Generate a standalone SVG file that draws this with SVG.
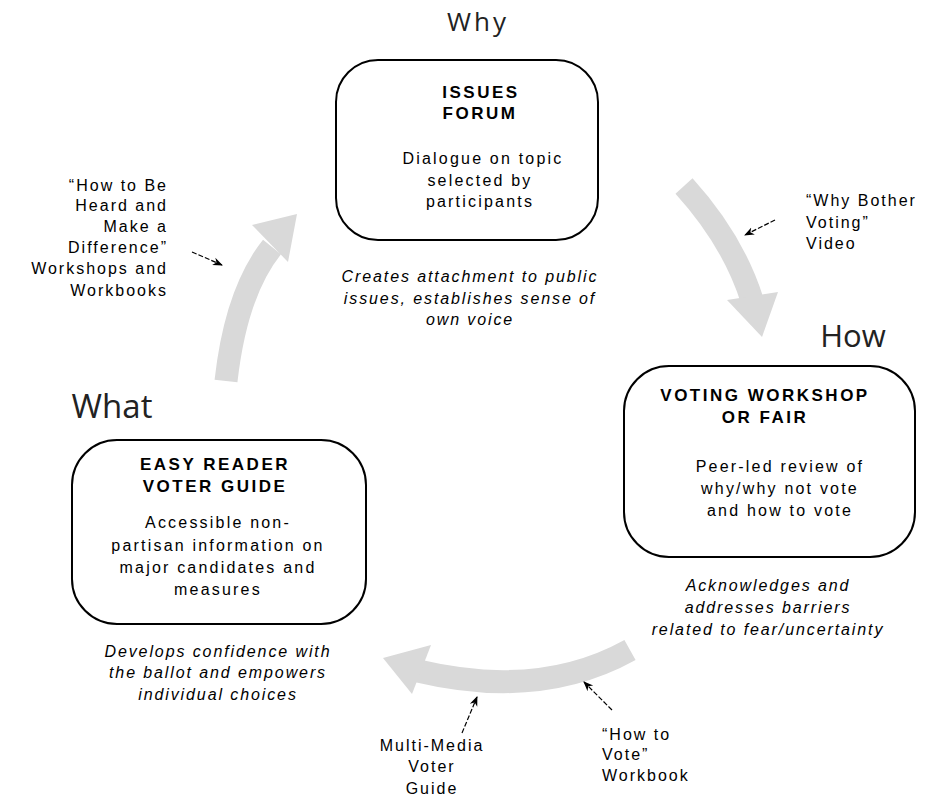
<svg xmlns="http://www.w3.org/2000/svg" width="936" height="802" viewBox="0 0 936 802">
<defs>
<marker id="ah" viewBox="0 0 10 10" refX="9" refY="5" markerWidth="10" markerHeight="10" orient="auto" markerUnits="userSpaceOnUse">
<path d="M0,1 L10,5 L0,9 L3,5 Z" fill="#000"/>
</marker>
</defs>
<style>
.box{fill:#fff;stroke:#000;stroke-width:2}
.t{font-family:"Liberation Sans",Arial,sans-serif;fill:#000}
.title{font-size:17px;font-weight:bold;text-anchor:middle;letter-spacing:2.5px}
.body{font-size:16px;text-anchor:middle;letter-spacing:2.2px}
.ital{font-size:16px;font-style:italic;text-anchor:middle;letter-spacing:1.9px}
.ann{font-size:16px;letter-spacing:2px}
.head{font-family:"Open Sans","DejaVu Sans",sans-serif;fill:#222}
.band{fill:none;stroke:#d9d9d9;stroke-width:23}
.hd{fill:#d9d9d9}
.pt{stroke:#000;stroke-width:1.2;fill:none;stroke-dasharray:5 2}
</style>
<rect width="936" height="802" fill="#fff"/>
<g id="connectors">
<path class="band" d="M684 186 Q733 240 752 300"/>
<polygon class="hd" points="727,300 778,292 762,337"/>
<path class="band" d="M630 650 Q540 700 418 671"/>
<polygon class="hd" points="431,645 383,658 412,694"/>
<path class="band" d="M226 381 Q236 292 272 247"/>
<polygon class="hd" points="252,225 288,262 297,214"/>
<path class="pt" d="M192 252 L222 265" marker-end="url(#ah)"/>
<path class="pt" d="M775 220 L745 235" marker-end="url(#ah)"/>
<path class="pt" d="M612 710 L584 682" marker-end="url(#ah)"/>
<path class="pt" d="M462 733 L477 697" marker-end="url(#ah)"/>
</g>
<g id="label-why"><text class="head" x="478" y="31" font-size="26" letter-spacing="3" text-anchor="middle">Why</text></g>
<g id="label-how"><text class="head" x="853" y="347" font-size="31" text-anchor="middle">How</text></g>
<g id="label-what"><text class="head" x="112" y="418" font-size="33" text-anchor="middle">What</text></g>
<g id="issues-forum">
<rect class="box" x="336" y="60" width="262" height="180" rx="42"/>
<text class="t title" x="481" y="98">ISSUES</text>
<text class="t title" x="480" y="119">FORUM</text>
<text class="t body" x="483" y="164">Dialogue on topic</text>
<text class="t body" x="480" y="186">selected by</text>
<text class="t body" x="480" y="207">participants</text>
<text class="t ital" x="470" y="282">Creates attachment to public</text>
<text class="t ital" x="470" y="304">issues, establishes sense of</text>
<text class="t ital" x="470" y="325">own voice</text>
</g>
<g id="voting-workshop">
<rect class="box" x="624" y="366" width="291" height="191" rx="45"/>
<text class="t title" x="765" y="401">VOTING WORKSHOP</text>
<text class="t title" x="765" y="423">OR FAIR</text>
<text class="t body" x="780" y="472">Peer-led review of</text>
<text class="t body" x="780" y="494">why/why not vote</text>
<text class="t body" x="780" y="516">and how to vote</text>
<text class="t ital" x="768" y="591">Acknowledges and</text>
<text class="t ital" x="768" y="613">addresses barriers</text>
<text class="t ital" x="768" y="635">related to fear/uncertainty</text>
</g>
<g id="easy-reader">
<rect class="box" x="72" y="440" width="294" height="184" rx="45"/>
<text class="t title" x="215" y="470">EASY READER</text>
<text class="t title" x="215" y="492">VOTER GUIDE</text>
<text class="t body" x="218" y="528">Accessible non-</text>
<text class="t body" x="218" y="551">partisan information on</text>
<text class="t body" x="218" y="573">major candidates and</text>
<text class="t body" x="218" y="595">measures</text>
<text class="t ital" x="218" y="657">Develops confidence with</text>
<text class="t ital" x="218" y="678">the ballot and empowers</text>
<text class="t ital" x="218" y="700">individual choices</text>
</g>
<g id="ann-how-to-be-heard">
<text class="t ann" text-anchor="end" x="168" y="191">“How to Be</text>
<text class="t ann" text-anchor="end" x="168" y="211">Heard and</text>
<text class="t ann" text-anchor="end" x="168" y="232">Make a</text>
<text class="t ann" text-anchor="end" x="168" y="253">Difference”</text>
<text class="t ann" text-anchor="end" x="168" y="274">Workshops and</text>
<text class="t ann" text-anchor="end" x="168" y="296">Workbooks</text>
</g>
<g id="ann-why-bother">
<text class="t ann" x="806" y="206">“Why Bother</text>
<text class="t ann" x="806" y="228">Voting”</text>
<text class="t ann" x="806" y="249">Video</text>
</g>
<g id="ann-multimedia">
<text class="t ann" text-anchor="middle" x="432" y="751" letter-spacing="0.5">Multi-Media</text>
<text class="t ann" text-anchor="middle" x="432" y="772" letter-spacing="0.5">Voter</text>
<text class="t ann" text-anchor="middle" x="432" y="794" letter-spacing="0.5">Guide</text>
</g>
<g id="ann-how-to-vote">
<text class="t ann" x="602" y="740">“How to</text>
<text class="t ann" x="602" y="760">Vote”</text>
<text class="t ann" x="602" y="781">Workbook</text>
</g>
</svg>
